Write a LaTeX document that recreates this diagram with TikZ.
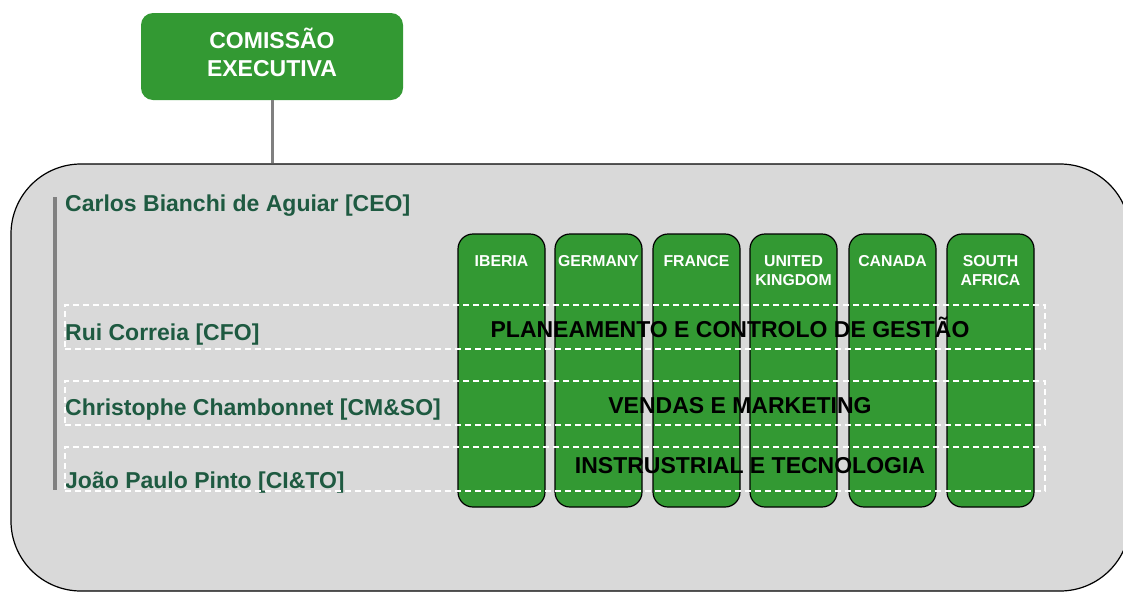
\documentclass[tikz,border=0pt]{standalone}
\usepackage{fontspec}
\setmainfont{Liberation Sans}
\definecolor{boxgreen}{RGB}{51,153,51}
\definecolor{panelgray}{RGB}{217,217,217}
\definecolor{namegreen}{RGB}{30,90,65}
\definecolor{linegray}{RGB}{128,128,128}
\begin{document}
\begin{tikzpicture}[x=1pt,y=-1pt,
  execbox/.style={fill=boxgreen, draw=none, rounded corners=12pt, minimum width=262pt, minimum height=87pt, inner sep=0pt},
  exectext/.style={anchor=center, align=center, inner sep=0pt, text=white, font=\fontsize{23}{28}\selectfont\bfseries},
  panel/.style={fill=panelgray, draw=black, line width=1.2pt, rounded corners=70pt, minimum width=1119pt, minimum height=427pt, inner sep=0pt},
  column/.style={fill=boxgreen, draw=black, line width=1.2pt, rounded corners=15pt, minimum width=87pt, minimum height=273pt, inner sep=0pt},
  collabel/.style={anchor=base, text=white, align=center, inner sep=0pt, font=\fontsize{15.8}{19}\selectfont\bfseries},
  person/.style={anchor=base west, text=namegreen, inner sep=0pt, font=\fontsize{23}{27}\selectfont\bfseries},
  rowbox/.style={draw=white, dashed, dash pattern=on 6pt off 4pt, line width=1.2pt, minimum width=980pt, minimum height=44pt, inner sep=0pt},
  rowlabel/.style={anchor=base, text=black, inner sep=0pt, font=\fontsize{23}{28}\selectfont\bfseries},
  grayline/.style={draw=linegray, line width=4pt}
]
\useasboundingbox (0,0) rectangle (1123,592);
\clip (0,0) rectangle (1123,592);

\node[panel] (panel) at (570.5,377.5) {};
\node[execbox] (exec) at (272,56.5) {};
\node[exectext] (exectext) at (272,52.5) {COMISSÃO\\EXECUTIVA};
\draw[grayline, line width=3pt] (exec.south) -- (exec.south |- panel.north);

\coordinate (ltop) at (54.5,197);
\coordinate (lbot) at (54.5,490);
\draw[grayline] (ltop) -- (lbot);

\node[person] (ceo) at (65,211) {Carlos Bianchi de Aguiar [CEO]};
\node[person] (cfo) at (65,340) {Rui Correia [CFO]};
\node[person] (cmso) at (65,415) {Christophe Chambonnet [CM\&SO]};
\node[person] (cito) at (65,488) {João Paulo Pinto [CI\&TO]};

\node[column] (c1) at (501.5,370.5) {};
\node[column] (c2) at (598.5,370.5) {};
\node[column] (c3) at (696.5,370.5) {};
\node[column] (c4) at (793.5,370.5) {};
\node[column] (c5) at (892.5,370.5) {};
\node[column] (c6) at (990.5,370.5) {};

\node[collabel] (l1) at (501.5,266) {IBERIA};
\node[collabel] (l2) at (598.5,266) {GERMANY};
\node[collabel] (l3) at (696.5,266) {FRANCE};
\node[collabel] (l4) at (793.5,285) {UNITED\\KINGDOM};
\node[collabel] (l5) at (892.5,266) {CANADA};
\node[collabel] (l6) at (990.5,285) {SOUTH\\AFRICA};

\node[rowbox] (r1) at (555,327) {};
\node[rowbox] (r2) at (555,403) {};
\node[rowbox] (r3) at (555,469) {};

\node[rowlabel] (t1) at (730,337) {PLANEAMENTO E CONTROLO DE GESTÃO};
\node[rowlabel] (t2) at (740,413) {VENDAS E MARKETING};
\node[rowlabel] (t3) at (750,473) {INSTRUSTRIAL E TECNOLOGIA};
\end{tikzpicture}
\end{document}
